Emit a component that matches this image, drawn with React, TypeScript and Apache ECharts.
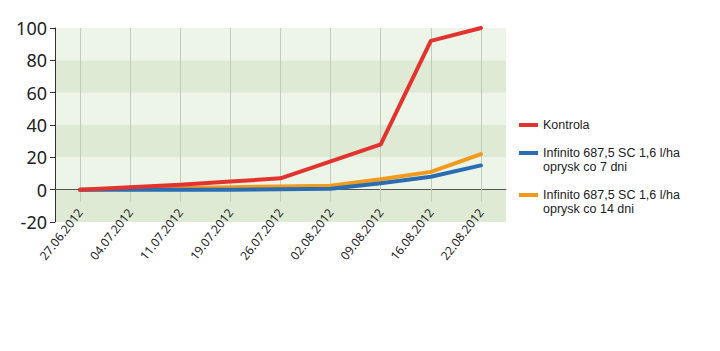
import React, { useEffect, useRef } from "react";
import * as echarts from "echarts";

const categories = ["27.06.2012", "04.07.2012", "11.07.2012", "19.07.2012", "26.07.2012", "02.08.2012", "09.08.2012", "16.08.2012", "22.08.2012"];
const kontrola = [0, 1.5, 3, 5, 7, 17.5, 28, 92, 100];
const infinito7 = [0, 0, 0, 0, 0.3, 0.5, 4, 8, 15];
const infinito14 = [0, 0.5, 1, 1.5, 2, 2.5, 6.5, 11, 22];
const seriesNames = ["Kontrola", "Infinito 687,5 SC 1,6 l/ha\noprysk co 7 dni", "Infinito 687,5 SC 1,6 l/ha\noprysk co 14 dni"];
const yTicks = { min: -20, max: 100, interval: 20 };

const FONT = "Noto Sans";
const LEGEND_FONT = "Liberation Sans";

export default function App() {
  const ref = useRef<HTMLDivElement>(null);
  useEffect(() => {
    if (!ref.current) return;
    const chart = echarts.init(ref.current, null, { renderer: "svg" });
    const colors = ["#e2332e", "#2a6db3", "#f29a1c"];
    const datas = [kontrola, infinito7, infinito14];
    const legendText = { fontFamily: LEGEND_FONT, fontSize: 12.5, color: "#222", lineHeight: 14 };
    chart.setOption({
      animation: false,
      backgroundColor: "#ffffff",
      grid: { left: 55, right: 214, top: 28, bottom: 129, containLabel: false },
      legend: [
        {
          orient: "vertical",
          left: 519,
          top: 118,
          padding: 0,
          itemWidth: 19,
          itemHeight: 4,
          icon: "rect",
          textStyle: legendText,
          data: [seriesNames[0]],
        },
        {
          orient: "vertical",
          left: 519,
          top: 146,
          padding: 0,
          itemWidth: 19,
          itemHeight: 28,
          itemGap: 14,
          icon: "path://M0,0h0.001M0,5h19v4h-19zM0,28h0.001",
          symbolKeepAspect: true,
          textStyle: legendText,
          data: [seriesNames[1], seriesNames[2]],
        },
      ],
      xAxis: {
        type: "category",
        data: categories,
        boundaryGap: true,
        axisLine: { onZero: true, lineStyle: { color: "#555", width: 1 } },
        axisTick: { show: false },
        axisLabel: {
          rotate: 52,
          margin: -12,
          fontFamily: FONT,
          fontSize: 12,
          color: "#222",
          interval: 0,
        },
        splitLine: { show: false },
      },
      yAxis: {
        type: "value",
        min: yTicks.min,
        max: yTicks.max,
        interval: yTicks.interval,
        axisLine: { show: true, lineStyle: { color: "#333", width: 1 } },
        axisTick: { show: true, length: 5, lineStyle: { color: "#333" } },
        axisLabel: { fontFamily: FONT, fontSize: 18, color: "#222", margin: 8 },
        splitLine: { show: false },
        splitArea: { show: true, areaStyle: { color: ["#dfead5", "#edf4e8"] } },
      },
      series: datas.map((d, i) => ({
        name: seriesNames[i],
        type: "line",
        data: d,
        symbol: "none",
        z: 10 - i,
        lineStyle: { color: colors[i], width: 4, cap: "round", join: "round" },
        itemStyle: { color: colors[i] },
        markLine:
          i === 0
            ? {
                silent: true,
                symbol: "none",
                label: { show: false },
                lineStyle: { color: "#c3cbbe", width: 1, type: "solid" },
                data: categories.map((c) => [
                  { xAxis: c, yAxis: yTicks.max },
                  { xAxis: c, yAxis: -7.5 },
                ]),
                z: 1,
              }
            : undefined,
      })),
    });
    return () => chart.dispose();
  }, []);
  return <div ref={ref} style={{ width: 720, height: 351, position: "absolute", left: 0, top: 0 }} />;
}
